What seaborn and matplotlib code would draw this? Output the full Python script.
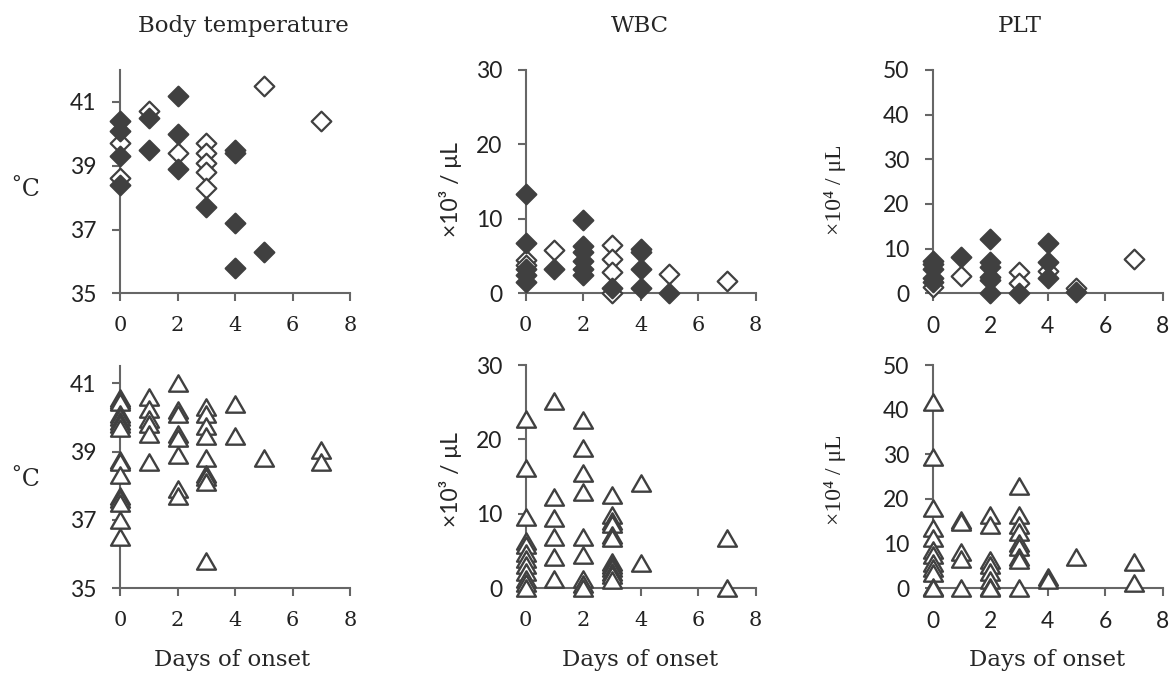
import matplotlib
matplotlib.use('Agg')
import matplotlib.pyplot as plt
from matplotlib.path import Path
import seaborn as sns

# ---- data ----
# top row: open / filled diamonds, bottom row: open triangles
bt_open_day = [0, 0, 1, 2, 3, 3, 3, 3, 3, 5, 7]
bt_open_val = [39.7, 38.6, 40.7, 39.4, 39.7, 39.4, 39.1, 38.8, 38.3, 41.5, 40.4]
bt_fill_day = [0, 0, 0, 0, 1, 1, 2, 2, 2, 3, 4, 4, 4, 4, 5]
bt_fill_val = [40.4, 40.1, 39.3, 38.4, 40.5, 39.5, 41.2, 40.0, 38.9, 37.7, 39.5, 39.4, 37.2, 35.8, 36.3]

wbc_open_day = [0, 0, 1, 3, 3, 3, 3, 5, 7]
wbc_open_val = [4.5, 3.8, 5.8, 6.5, 4.6, 2.8, 0.1, 2.6, 1.6]
wbc_fill_day = [0, 0, 0, 0, 0, 1, 2, 2, 2, 2, 2, 2, 3, 4, 4, 4, 4, 5]
wbc_fill_val = [13.4, 6.7, 3.2, 2.4, 1.5, 3.3, 9.9, 6.4, 5.5, 4.4, 3.3, 2.5, 0.7, 6.0, 5.5, 3.3, 0.7, 0.0]

plt_open_day = [0, 1, 3, 3, 4, 5, 7]
plt_open_val = [1.5, 3.9, 4.8, 2.2, 4.9, 1.1, 7.7]
plt_fill_day = [0, 0, 0, 0, 0, 1, 2, 2, 2, 2, 2, 2, 3, 4, 4, 4, 5]
plt_fill_val = [7.3, 6.5, 5.5, 3.5, 2.5, 8.2, 12.2, 7.1, 6.0, 3.7, 3.0, 0.0, 0.0, 11.3, 6.9, 3.4, 0.2]

bt2_day = [0] * 16 + [1] * 6 + [2] * 8 + [3] * 9 + [4, 4, 5, 7, 7]
bt2_val = [40.55, 40.5, 40.45, 40.1, 40.0, 39.9, 39.8, 39.7, 38.75, 38.7, 38.3, 37.7, 37.6, 37.5, 37.0, 36.5,
           40.6, 40.25, 39.95, 39.8, 39.5, 38.7,
           41.0, 40.2, 40.1, 39.5, 39.4, 38.9, 37.9, 37.7,
           40.3, 40.1, 39.75, 39.45, 38.8, 38.35, 38.25, 38.1, 35.8,
           40.4, 39.45, 38.8, 39.05, 38.7]

wbc2_day = [0] * 12 + [1] * 6 + [2] * 9 + [3] * 12 + [4, 4, 7, 7]
wbc2_val = [22.8, 16.1, 9.6, 6.4, 5.8, 4.7, 4.0, 3.1, 2.2, 1.3, 0.7, 0.0,
            25.1, 12.3, 9.4, 6.9, 4.25, 1.3,
            22.6, 18.9, 15.5, 13.0, 6.9, 4.5, 1.3, 0.6, 0.0,
            12.5, 9.85, 9.0, 8.7, 7.2, 6.7, 3.6, 3.1, 2.7, 2.2, 1.8, 1.1,
            14.1, 3.4, 6.7, 0.0]

plt2_day = [0] * 12 + [1] * 5 + [2] * 8 + [3] * 9 + [4, 4, 5, 7, 7]
plt2_val = [41.8, 29.5, 17.9, 13.4, 11.2, 8.6, 7.5, 5.6, 4.5, 3.4, 0.4, 0.0,
            15.4, 14.9, 8.2, 6.5, 0.0,
            16.4, 14.2, 6.3, 5.2, 3.7, 1.9, 0.4, 0.0,
            22.8, 16.4, 14.2, 12.7, 10.1, 9.3, 7.1, 6.3, 0.0,
            2.6, 1.9, 7.1, 5.9, 1.1]

titles = ['Body temperature', 'WBC', 'PLT']
day_ticks = [0, 2, 4, 6, 8]

# ---- style ----
sns.set_style('ticks')
plt.rcParams['font.family'] = ['Lato', 'DejaVu Sans']
DARK = '#404040'
AXIS = '#666666'
SERIF = ['DejaVu Serif']
SANS = ['Lato', 'DejaVu Sans']
# equilateral triangle, like the Excel marker
TRI = Path([(0, 0.866), (-1, -0.866), (1, -0.866), (0, 0.866)], closed=True)

W, H = 1176, 677
fig = plt.figure(figsize=(W / 100, H / 100), dpi=100)


def make_ax(left, top, bottom, width=230):
    return fig.add_axes([left / W, 1 - bottom / H, width / W, (bottom - top) / H])


def style_ax(ax, ylim, yticks, xserif):
    ax.set_xlim(0, 8)
    ax.set_xticks(day_ticks)
    ax.set_ylim(*ylim)
    ax.set_yticks(yticks)
    ax.set_xlabel('')
    ax.set_ylabel('')
    sns.despine(ax=ax)
    for s in ['left', 'bottom']:
        ax.spines[s].set_color(AXIS)
        ax.spines[s].set_linewidth(1.5)
    ax.tick_params(axis='both', color=AXIS, width=1.5, length=6, direction='out',
                   labelsize=16.5, labelcolor='#222222')
    ax.tick_params(axis='y', pad=11)
    ax.tick_params(axis='x', pad=10)
    for lab in ax.get_yticklabels():
        lab.set_family(SANS)
    for lab in ax.get_xticklabels():
        lab.set_family(SERIF if xserif else SANS)
        if xserif:
            lab.set_fontsize(15)


def diamonds(ax, od, ov, fd, fv):
    sns.scatterplot(x=od, y=ov, ax=ax, marker='D', s=100, color='white',
                    edgecolor=DARK, linewidth=1.6, zorder=3, clip_on=False)
    sns.scatterplot(x=fd, y=fv, ax=ax, marker='D', s=100, color=DARK,
                    edgecolor=DARK, linewidth=1.6, zorder=4, clip_on=False)


def triangles(ax, d, v):
    sns.scatterplot(x=d, y=v, ax=ax, marker=TRI, s=185, color='white',
                    edgecolor=DARK, linewidth=1.7, zorder=3, clip_on=False)


lefts = [120, 525.7, 932.7]
ax1 = make_ax(lefts[0], 70, 293.3)
diamonds(ax1, bt_open_day, bt_open_val, bt_fill_day, bt_fill_val)
style_ax(ax1, (35, 42), [35, 37, 39, 41], True)

ax2 = make_ax(lefts[1], 70, 293.3)
diamonds(ax2, wbc_open_day, wbc_open_val, wbc_fill_day, wbc_fill_val)
style_ax(ax2, (0, 30), [0, 10, 20, 30], True)

ax3 = make_ax(lefts[2], 70, 293.3)
diamonds(ax3, plt_open_day, plt_open_val, plt_fill_day, plt_fill_val)
style_ax(ax3, (0, 50), [0, 10, 20, 30, 40, 50], False)

ax4 = make_ax(lefts[0], 366, 588.3)
triangles(ax4, bt2_day, bt2_val)
style_ax(ax4, (35, 41.5), [35, 37, 39, 41], True)

ax5 = make_ax(lefts[1], 365, 588.3)
triangles(ax5, wbc2_day, wbc2_val)
style_ax(ax5, (0, 30), [0, 10, 20, 30], True)

ax6 = make_ax(lefts[2], 365, 588.3)
triangles(ax6, plt2_day, plt2_val)
style_ax(ax6, (0, 50), [0, 10, 20, 30, 40, 50], False)

# ---- text ----
for txt, x in zip(titles, [243, 640, 1020]):
    fig.text(x / W, 1 - 26 / H, txt, ha='center', va='center', family=SERIF, fontsize=16.5)
for x in [232, 640, 1047]:
    fig.text(x / W, 1 - 660 / H, 'Days of onset', ha='center', va='center', family=SERIF, fontsize=16.5)
for y in [190, 480]:
    fig.text(25 / W, 1 - y / H, '˚C', ha='center', va='center', family=SERIF, fontsize=17)
    fig.text(450 / W, 1 - y / H, '×10³ / μL', ha='center', va='center', rotation=90,
             family=SANS, fontsize=16.5)
    fig.text(835 / W, 1 - y / H, '×10⁴ / μL', ha='center', va='center', rotation=90,
             family=['Liberation Serif', 'DejaVu Serif'], fontsize=17)

fig.savefig('out.png', dpi=100)
